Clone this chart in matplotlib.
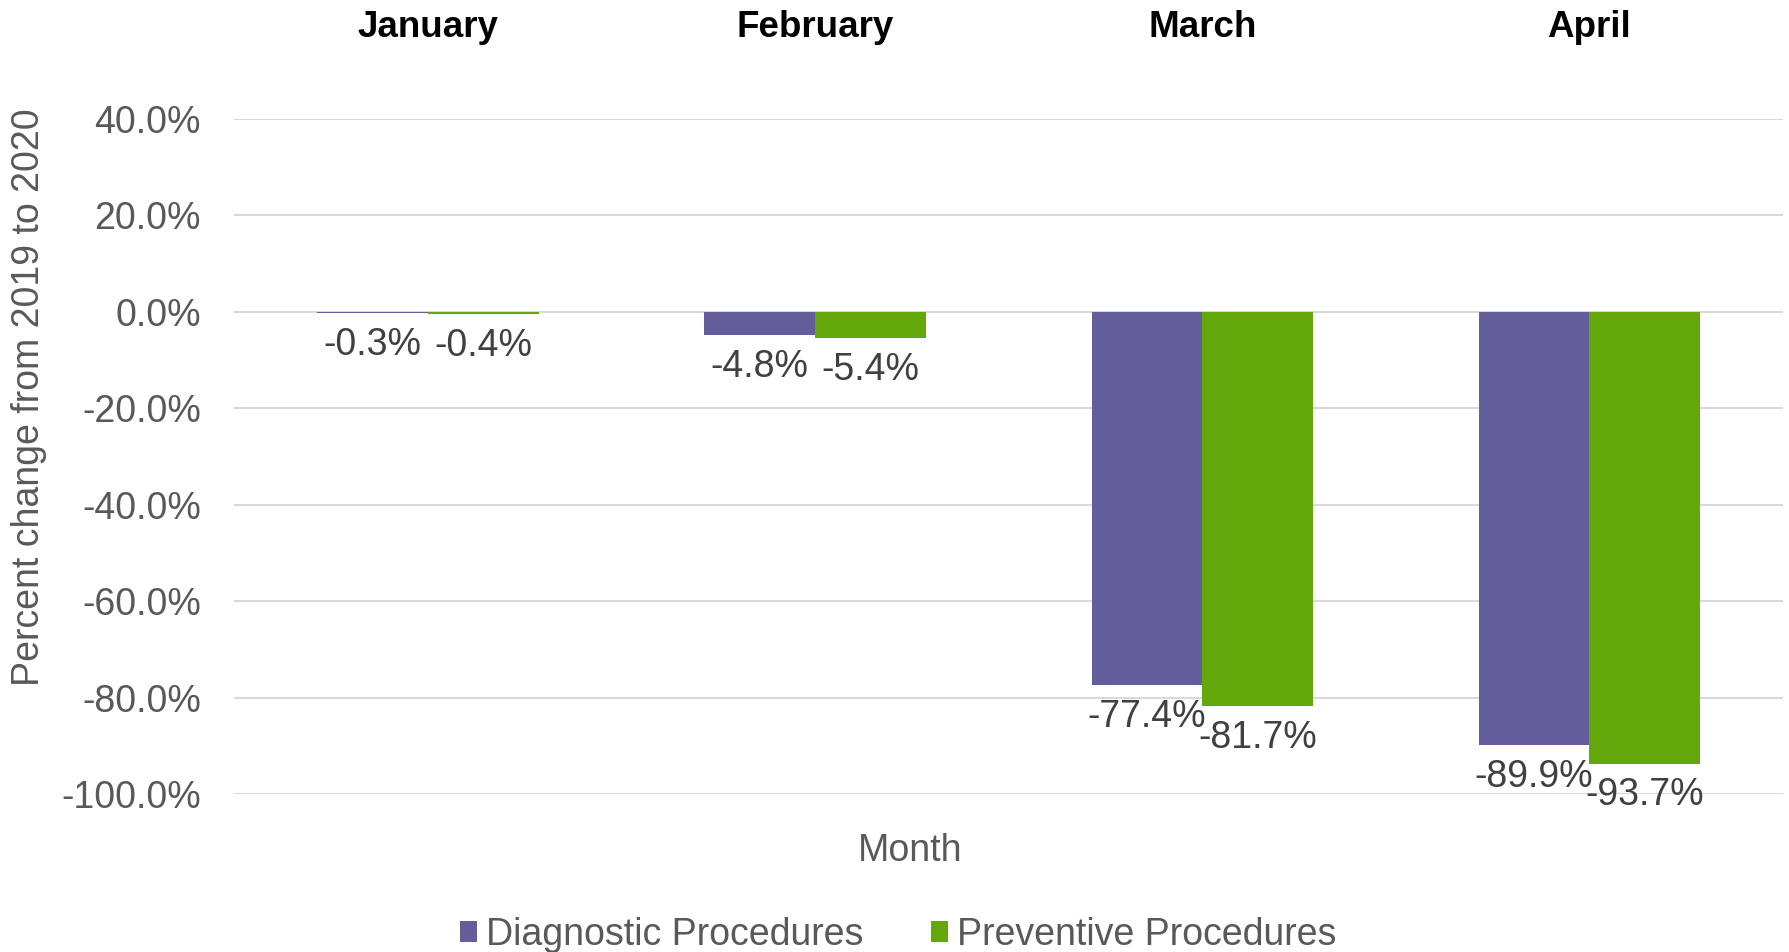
import numpy as np
import matplotlib.pyplot as plt

plt.rcParams['font.family'] = ['Liberation Sans', 'DejaVu Sans']

# Datos
meses = ['January', 'February', 'March', 'April']
diagnostico = [-0.3, -4.8, -77.4, -89.9]
preventivo = [-0.4, -5.4, -81.7, -93.7]
etiquetas_y = [40, 20, 0, -20, -40, -60, -80, -100]

color_diag = '#635E9B'
color_prev = '#63A70A'
gris = '#595959'

fig = plt.figure(figsize=(17.89, 9.52), dpi=100)
ax = fig.add_axes([0.131, 0.166, 0.8656, 0.709])

x = np.arange(len(meses))
ancho = 0.2857

b1 = ax.bar(x - ancho/2, diagnostico, ancho, color=color_diag, label='Diagnostic Procedures', zorder=3)
b2 = ax.bar(x + ancho/2, preventivo, ancho, color=color_prev, label='Preventive Procedures', zorder=3)

# Etiquetas de datos debajo de cada barra
for barras, valores in [(b1, diagnostico), (b2, preventivo)]:
    for rect, v in zip(barras, valores):
        ax.annotate(f'{v:.1f}%', (rect.get_x() + rect.get_width()/2, v),
                    xytext=(0, -10), textcoords='offset points',
                    ha='center', va='top', fontsize=27, color='#404040')

ax.set_xlim(-0.5, len(meses) - 0.5)
ax.set_ylim(-100, 40)
ax.set_yticks(etiquetas_y)
ax.set_yticklabels([f'{v:.1f}%' for v in etiquetas_y])
ax.tick_params(axis='y', length=0, pad=24, labelsize=27, labelcolor=gris)
ax.set_xticks([])
ax.grid(axis='y', color='#D9D9D9', linewidth=1.5, zorder=0)
ax.set_axisbelow(True)
for s in ax.spines.values():
    s.set_visible(False)

# Nombres de los meses arriba
for i, m in enumerate(meses):
    ax.text(i, 1.1356, m, transform=ax.get_xaxis_transform(), ha='center', va='center',
            fontsize=26.5, fontweight='bold', color='black')

fig.text(0.0162, 0.583, 'Percent change from 2019 to 2020', rotation=90,
         ha='center', va='center', fontsize=27, color=gris)
fig.text(0.509, 0.1064, 'Month', ha='center', va='center', fontsize=27, color=gris)

fig.legend(loc='center', bbox_to_anchor=(0.502, 0.018), ncol=2, frameon=False,
           fontsize=27, labelcolor=gris, handlelength=0.45, handleheight=0.45,
           handletextpad=0.25, columnspacing=1.8)

fig.savefig('out.png', dpi=100)
